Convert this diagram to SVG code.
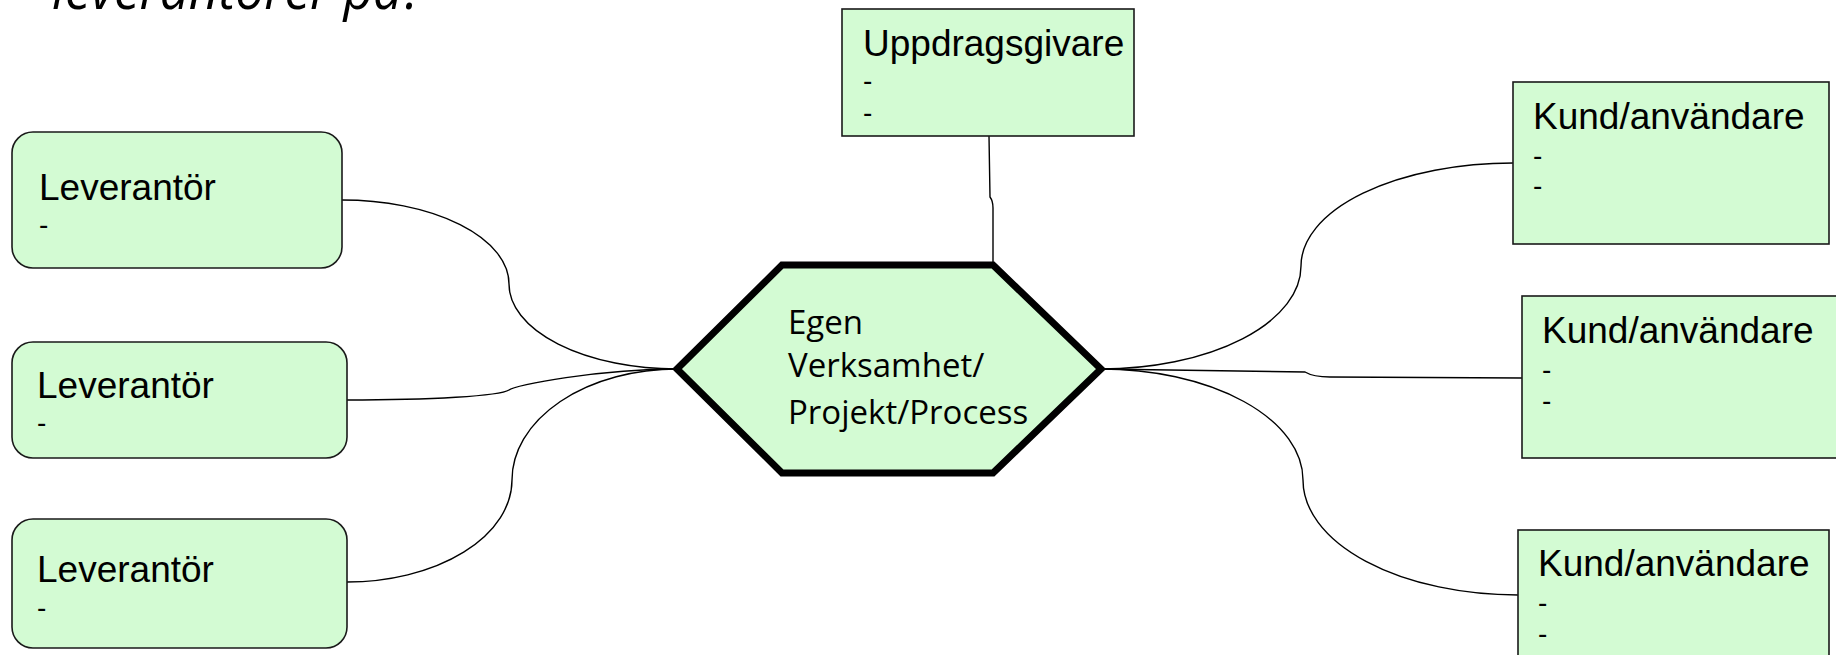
<svg xmlns="http://www.w3.org/2000/svg" width="1836" height="655" viewBox="0 0 1836 655">
<style>
.box{fill:#d3fbd3;stroke:#1a1a1a;stroke-width:1.6}
.lbl{font-family:"Liberation Sans",Arial,sans-serif;font-size:37px;fill:#000}
.dash{font-family:"Liberation Sans",Arial,sans-serif;font-size:28px;fill:#000}
.hex{fill:#d3fbd3;stroke:#000;stroke-width:7;stroke-linejoin:miter}
.htxt{font-family:"Open Sans","Noto Sans",sans-serif;font-size:33px;fill:#000}
.con{fill:none;stroke:#000;stroke-width:1.4}
.title{font-family:"Open Sans","Noto Sans",sans-serif;font-style:italic;font-size:54px;fill:#000}
</style>
<rect width="1836" height="655" fill="#fff"/>
<text class="title" x="52" y="9" textLength="372" lengthAdjust="spacingAndGlyphs">leverantörer på?</text>
<g id="connectors">
<path class="con" d="M342,200 A167 84 0 0 1 509 284 A168 85 0 0 0 677 369"/>
<path class="con" d="M347,400 C430,400 500,396 509,390 C514,385 600,369 677,369"/>
<path class="con" d="M347,582 A165 102 0 0 0 512 480 A165 111 0 0 1 677 369"/>
<path class="con" d="M989,136 L990,197 Q993,201 993,208 L993,265"/>
<path class="con" d="M1101,369 A200 103 0 0 0 1301 266 A212 103 0 0 1 1513 163"/>
<path class="con" d="M1101,369 L1305,372 C1310,375 1318,377 1330,377 L1522,378"/>
<path class="con" d="M1101,369 A202 111 0 0 1 1303 480 A215 115 0 0 0 1518 595"/>
</g>
<g id="lev1">
<rect class="box" x="12" y="132" width="330" height="136" rx="21"/>
<text class="lbl" x="39" y="200">Leverantör</text>
<text class="dash" x="39" y="234">-</text>
</g>
<g id="lev2">
<rect class="box" x="12" y="342" width="335" height="116" rx="21"/>
<text class="lbl" x="37" y="398">Leverantör</text>
<text class="dash" x="37" y="432">-</text>
</g>
<g id="lev3">
<rect class="box" x="12" y="519" width="335" height="129" rx="21"/>
<text class="lbl" x="37" y="582">Leverantör</text>
<text class="dash" x="37" y="617">-</text>
</g>
<g id="uppdragsgivare">
<rect class="box" x="842" y="9" width="292" height="127"/>
<text class="lbl" x="863" y="56">Uppdragsgivare</text>
<text class="dash" x="863" y="90">-</text>
<text class="dash" x="863" y="122">-</text>
</g>
<g id="hexagon">
<polygon class="hex" points="677,369 782,265 993,265 1101,369 993,473 782,473"/>
<text class="htxt" x="788" y="334">Egen</text>
<text class="htxt" x="788" y="377">Verksamhet/</text>
<text class="htxt" x="788" y="424">Projekt/Process</text>
</g>
<g id="kund1">
<rect class="box" x="1513" y="82" width="316" height="162"/>
<text class="lbl" x="1533" y="129">Kund/användare</text>
<text class="dash" x="1533" y="165">-</text>
<text class="dash" x="1533" y="195">-</text>
</g>
<g id="kund2">
<rect class="box" x="1522" y="296" width="330" height="162"/>
<text class="lbl" x="1542" y="343">Kund/användare</text>
<text class="dash" x="1542" y="379">-</text>
<text class="dash" x="1542" y="410">-</text>
</g>
<g id="kund3">
<rect class="box" x="1518" y="530" width="311" height="140"/>
<text class="lbl" x="1538" y="576">Kund/användare</text>
<text class="dash" x="1538" y="612">-</text>
<text class="dash" x="1538" y="643">-</text>
</g>
</svg>
